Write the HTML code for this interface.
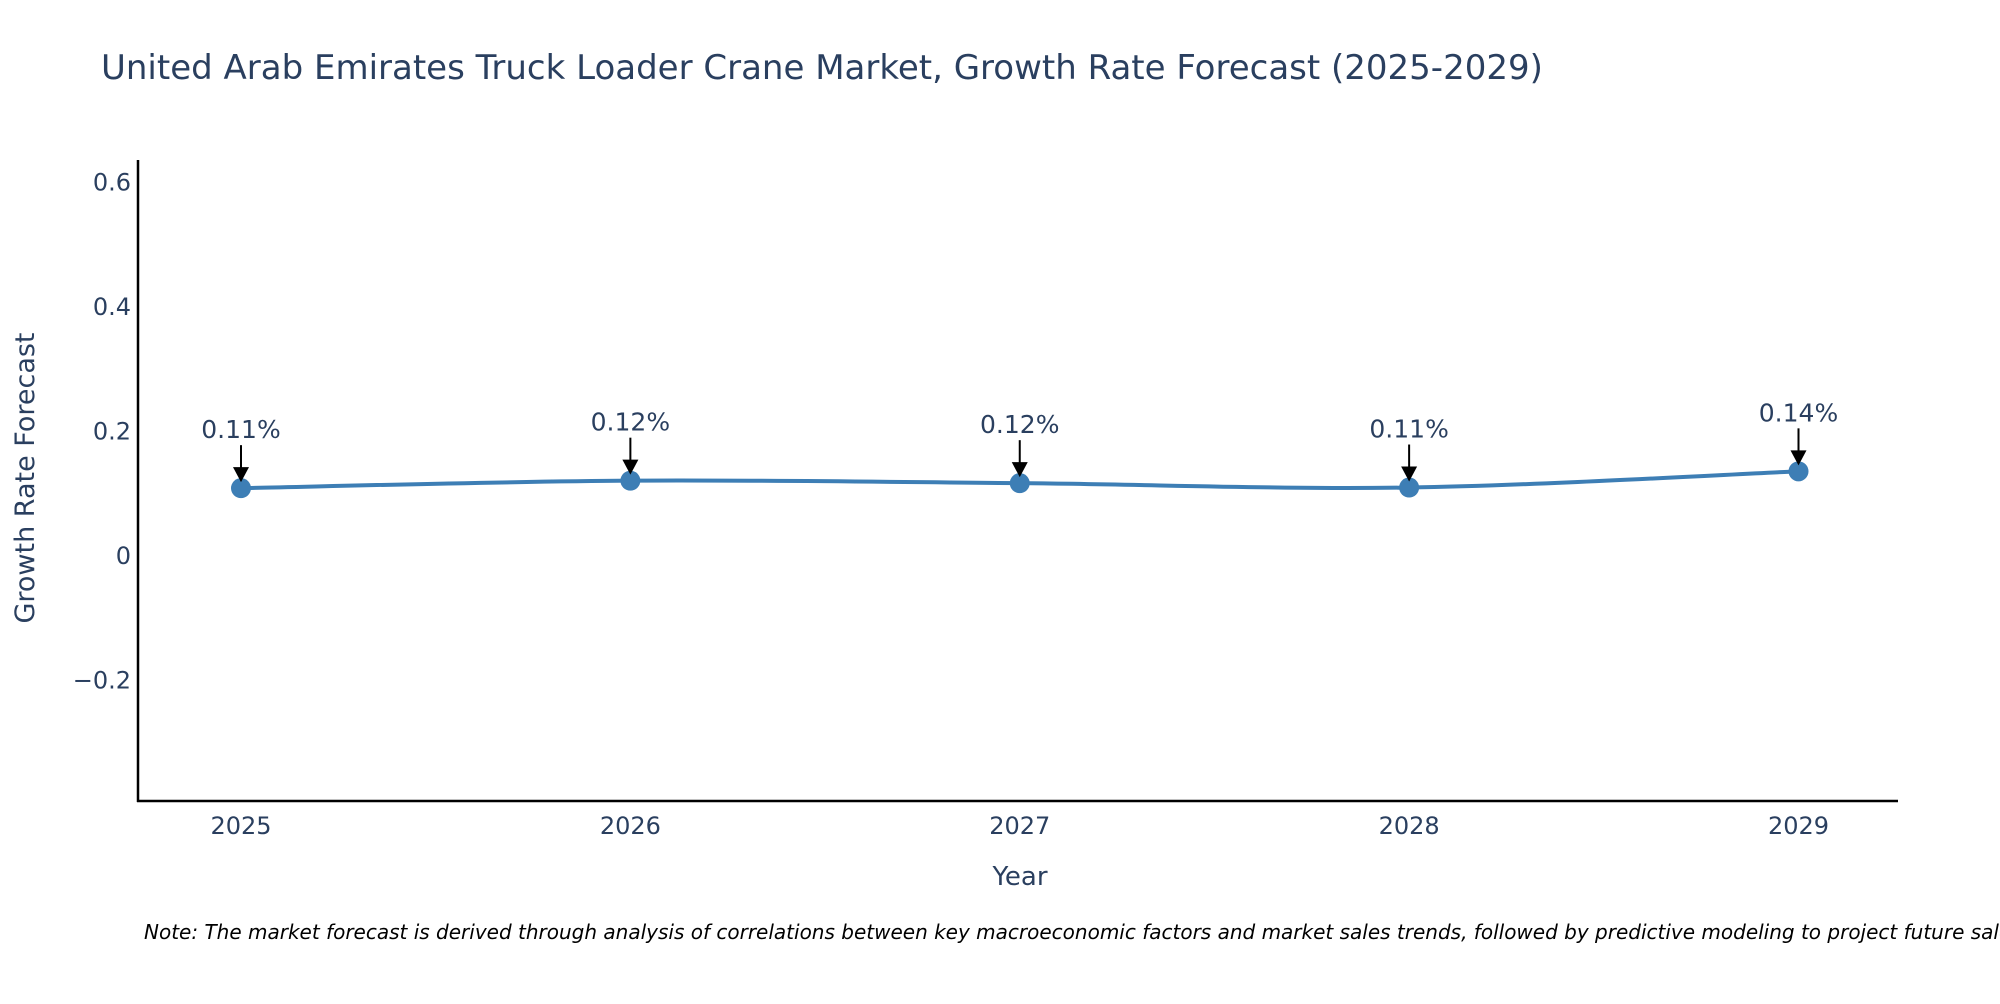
<!DOCTYPE html>
<html><head><meta charset="utf-8"><style>
body{margin:0;background:#fff;font-family:"DejaVu Sans","Liberation Sans",sans-serif;}
svg text{font-family:"DejaVu Sans","Liberation Sans",sans-serif;fill:#2a3f5f;}
</style></head><body>
<svg id="chart" width="2000" height="1000" xmlns="http://www.w3.org/2000/svg">
<text x="101" y="79" font-size="34">United Arab Emirates Truck Loader Crane Market, Growth Rate Forecast (2025-2029)</text>
<g id="yticks"></g><g id="xticks"></g>
<line x1="138" y1="160" x2="138" y2="802" stroke="#000" stroke-width="2.5"/>
<line x1="137" y1="801" x2="1898" y2="801" stroke="#000" stroke-width="2.5"/>
<text x="1020" y="885" font-size="26" text-anchor="middle">Year</text>
<text transform="translate(34,478) rotate(-90)" font-size="27" text-anchor="middle">Growth Rate Forecast</text>
<g id="series"></g>
<text x="144" y="939" font-size="20" font-style="italic" style="fill:#000">Note: The market forecast is derived through analysis of correlations between key macroeconomic factors and market sales trends, followed by predictive modeling to project future sales.</text>
</svg>
<script>
const years=[2025,2026,2027,2028,2029];
const values=[0.109,0.121,0.117,0.110,0.136];
const labels=["0.11%","0.12%","0.12%","0.11%","0.14%"];
const yTicks=[-0.2,0,0.2,0.4,0.6];
const yTickLabels=["\u22120.2","0","0.2","0.4","0.6"];
const NS="http://www.w3.org/2000/svg";
const xs=y=>241+(y-2025)*(1798.5-241)/4;
const ys=v=>556-v*(124.5/0.2);
function mk(t,a,p){const e=document.createElementNS(NS,t);for(const k in a)e.setAttribute(k,a[k]);p.appendChild(e);return e;}
const yt=document.getElementById('yticks');
yTicks.forEach((v,i)=>{const t=mk('text',{x:131,y:ys(v)+8,'font-size':24,'text-anchor':'end'},yt);t.textContent=yTickLabels[i];

});
const xt=document.getElementById('xticks');
years.forEach(y=>{const t=mk('text',{x:xs(y),y:834,'font-size':24,'text-anchor':'middle'},xt);t.textContent=y;

});
const s=document.getElementById('series');
const pts=years.map((y,i)=>[xs(y),ys(values[i])]);
let d=`M${pts[0][0]},${pts[0][1]}`;
for(let i=0;i<pts.length-1;i++){const p0=pts[i-1]||pts[i],p1=pts[i],p2=pts[i+1],p3=pts[i+2]||p2;const k=0.5/3;
d+=` C${p1[0]+(p2[0]-p0[0])*k},${p1[1]+(p2[1]-p0[1])*k} ${p2[0]-(p3[0]-p1[0])*k},${p2[1]-(p3[1]-p1[1])*k} ${p2[0]},${p2[1]}`;}
const line=mk('path',{d:d,fill:'none',stroke:'#3d7eb5','stroke-width':4},s);


pts.forEach((p,i)=>{
const c=mk('circle',{cx:p[0],cy:p[1],r:10,fill:'#3d7eb5'},s);


const a=mk('line',{x1:p[0],y1:p[1]-43,x2:p[0],y2:p[1]-16,stroke:'#000','stroke-width':2},s);


const h=mk('polygon',{points:`${p[0]-8},${p[1]-21} ${p[0]+8},${p[1]-21} ${p[0]},${p[1]-6}`,fill:'#000'},s);


const t=mk('text',{x:p[0],y:p[1]-50,'font-size':25,'text-anchor':'middle'},s);t.textContent=labels[i];


});
</script>
</body></html>
